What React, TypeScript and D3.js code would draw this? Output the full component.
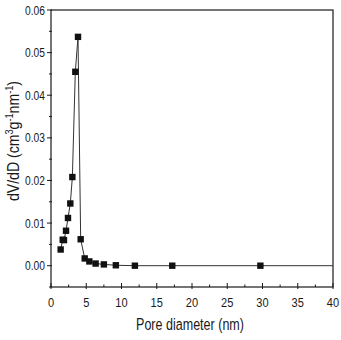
import React from "react";
import * as d3 from "d3";

const poreDiameter = [1.37, 1.66, 1.84, 2.13, 2.41, 2.74, 3.03, 3.45, 3.83, 4.21, 4.78, 5.44, 6.33, 7.5, 9.2, 11.9, 17.2, 29.7];
const dVdD = [0.0038, 0.0061, 0.006, 0.0082, 0.0112, 0.0146, 0.0208, 0.0455, 0.0537, 0.0062, 0.0017, 0.001, 0.0005, 0.0003, 0.0001, 0.0, 0.0, 0.0];
const xTicks = [0, 5, 10, 15, 20, 25, 30, 35, 40];
const yTicks = [0.0, 0.01, 0.02, 0.03, 0.04, 0.05, 0.06];

const FONT = "'Liberation Sans', Arial, sans-serif";

function NText({ x, y, sx = 0.82, rot = 0, anchor = "middle", size = 13, children }: any) {
  return (
    <g transform={`translate(${x},${y}) rotate(${rot}) scale(${sx},1)`}>
      <text x={0} y={0} fontSize={size} textAnchor={anchor} fill="#1a1a1a">{children}</text>
    </g>
  );
}

export default function App() {
  const W = 341, H = 340;
  const left = 51, right = 333, top = 10, bottom = 287;
  const x = d3.scaleLinear().domain([0, 40]).range([left, right]);
  const y = d3.scaleLinear().domain([-0.005, 0.06]).range([bottom, top]);
  const pts = poreDiameter.map((d, i) => [d, dVdD[i]] as [number, number]);
  const lineGen = d3.line<[number, number]>().x(d => x(d[0])).y(d => y(d[1]));
  const lastX = poreDiameter[poreDiameter.length - 1];
  const lastY = dVdD[dVdD.length - 1];
  const xMinor = d3.range(2.5, 40, 5);
  const yMinor = d3.range(-0.005, 0.06, 0.01);
  const c = "#1a1a1a";
  return (
    <svg width={W} height={H} style={{ position: "absolute", left: 0, top: 0, background: "#fff" }} fontFamily={FONT}>
      <rect x={0} y={0} width={W} height={H} fill="#fff" />
      <rect x={left} y={top} width={right - left} height={bottom - top} fill="none" stroke={c} strokeWidth={1.2} />
      {xTicks.map(t => (
        <g key={"xt" + t}>
          <line x1={x(t)} x2={x(t)} y1={bottom + 2} y2={bottom - 4} stroke={c} strokeWidth={1} />
          <NText x={x(t)} y={307} size={13.5}>{t}</NText>
        </g>
      ))}
      {xMinor.map(t => (
        <line key={"xm" + t} x1={x(t)} x2={x(t)} y1={bottom} y2={bottom - 2.5} stroke={c} strokeWidth={1} />
      ))}
      {yTicks.map(t => (
        <g key={"yt" + t}>
          <line x1={left - 4} x2={left + 1} y1={y(t)} y2={y(t)} stroke={c} strokeWidth={1} />
          <NText x={45} y={y(t) + 4.5} anchor="end" size={12.5}>{t.toFixed(2)}</NText>
        </g>
      ))}
      {yMinor.map(t => (
        <line key={"ym" + t} x1={left - 2} x2={left + 1} y1={y(t)} y2={y(t)} stroke={c} strokeWidth={1} />
      ))}
      <path d={lineGen(pts) || ""} fill="none" stroke="#333" strokeWidth={1} />
      <line x1={x(lastX)} x2={right} y1={y(lastY)} y2={y(lastY)} stroke="#333" strokeWidth={1} />
      {pts.map((p, i) => (
        <rect key={"p" + i} x={x(p[0]) - 3.2} y={y(p[1]) - 3.2} width={6.4} height={6.4} fill="#111" />
      ))}
      <NText x={190} y={330} size={16.5} sx={0.76}>Pore diameter (nm)</NText>
      <NText x={19} y={141} rot={-90} size={16} sx={0.88}>
        dV/dD (cm<tspan dy={-6} fontSize={10.5}>3</tspan><tspan dy={6}>g</tspan><tspan dy={-6} fontSize={10.5}>-1</tspan><tspan dy={6}>nm</tspan><tspan dy={-6} fontSize={10.5}>-1</tspan><tspan dy={6}>)</tspan>
      </NText>
    </svg>
  );
}
